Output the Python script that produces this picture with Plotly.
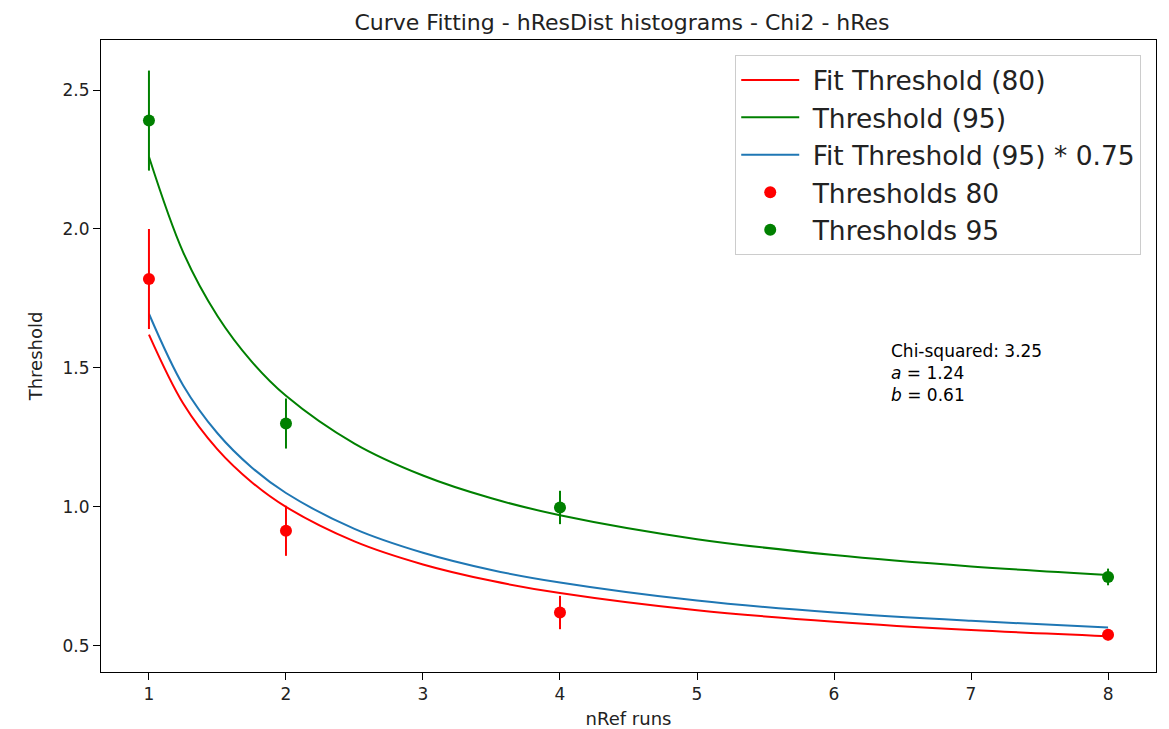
import plotly.graph_objects as go

# Measured thresholds
n_ref = [1, 2, 4, 8]
thr80 = [1.82, 0.914, 0.62, 0.54]
err80 = [0.18, 0.09, 0.06, 0.02]
thr95 = [2.39, 1.30, 0.998, 0.748]
err95 = [0.18, 0.09, 0.06, 0.03]

# Fit curves
x_fit = [1, 1.25, 1.5, 1.75, 2, 2.5, 3, 3.5, 4, 5, 6, 7, 8]
fit80 = [1.62, 1.372, 1.207, 1.089, 1.00, 0.876, 0.793, 0.734, 0.69, 0.628, 0.587, 0.557, 0.535]
fit95 = [2.26, 1.916, 1.687, 1.523, 1.40, 1.228, 1.113, 1.031, 0.97, 0.884, 0.827, 0.786, 0.755]
fit95_75 = [1.695, 1.437, 1.265, 1.142, 1.05, 0.921, 0.835, 0.773, 0.728, 0.663, 0.620, 0.590, 0.566]

x_ticks = [1, 2, 3, 4, 5, 6, 7, 8]
y_ticks = [0.5, 1.0, 1.5, 2.0, 2.5]

RED = "#ff0000"
GREEN = "#008000"
BLUE = "#1f77b4"
FONT = "DejaVu Sans"
PAD = "&nbsp;"

fig = go.Figure()
fig.add_trace(go.Scatter(x=x_fit, y=fit80, mode="lines", line=dict(color=RED, width=2, shape="spline"),
                         name=PAD + "Fit Threshold (80)", legendgroup="g1"))
fig.add_trace(go.Scatter(x=x_fit, y=fit95, mode="lines", line=dict(color=GREEN, width=2, shape="spline"),
                         name=PAD + "Threshold (95)", legendgroup="g2"))
fig.add_trace(go.Scatter(x=x_fit, y=fit95_75, mode="lines", line=dict(color=BLUE, width=2, shape="spline"),
                         name=PAD + "Fit Threshold (95) * 0.75", legendgroup="g3"))
fig.add_trace(go.Scatter(x=n_ref, y=thr80, mode="markers", marker=dict(color=RED, size=12),
                         error_y=dict(type="data", array=err80, color=RED, thickness=2, width=0),
                         name=PAD + "Thresholds 80", legendgroup="g4"))
fig.add_trace(go.Scatter(x=n_ref, y=thr95, mode="markers", marker=dict(color=GREEN, size=12),
                         error_y=dict(type="data", array=err95, color=GREEN, thickness=2, width=0),
                         name=PAD + "Thresholds 95", legendgroup="g5"))

axis_common = dict(showline=True, linecolor="black", linewidth=1, mirror=True, ticks="outside",
                   ticklen=7, tickcolor="black", showgrid=False, zeroline=False, automargin=False,
                   tickfont=dict(family=FONT, size=17, color="#222"))

fig.update_layout(
    width=1169, height=729,
    paper_bgcolor="white", plot_bgcolor="white",
    margin=dict(l=101, r=13, t=40, b=57),
    font=dict(family=FONT, color="#222"),
    title=dict(text="Curve Fitting - hResDist histograms - Chi2 - hRes", x=622 / 1169,
               xanchor="center", y=1 - 22 / 729, yanchor="middle", font=dict(family=FONT, size=22, color="#222")),
    xaxis=dict(range=[0.65, 8.35], tickvals=x_ticks,
               title=dict(text="nRef runs", font=dict(family=FONT, size=18)),
               **axis_common),
    yaxis=dict(range=[0.406, 2.68], tickvals=y_ticks, tickformat=".1f",
               title=dict(text="Threshold", font=dict(family=FONT, size=18)), **axis_common),
    legend=dict(x=0.986, y=0.976, xanchor="right", yanchor="top", bgcolor="rgba(255,255,255,0.8)",
                bordercolor="#cccccc", borderwidth=1, font=dict(family=FONT, size=26.5, color="#222"),
                tracegroupgap=7.5, traceorder="normal", itemwidth=58),
    showlegend=True,
)

fig.add_annotation(x=0.747, y=0.527, xref="paper", yref="paper", xanchor="left", yanchor="top",
                   text="Chi-squared: 3.25<br><i>a</i> = 1.24<br><i>b</i> = 0.61", showarrow=False, align="left",
                   font=dict(family=FONT, size=17, color="black"))

fig.write_html("out.html")
